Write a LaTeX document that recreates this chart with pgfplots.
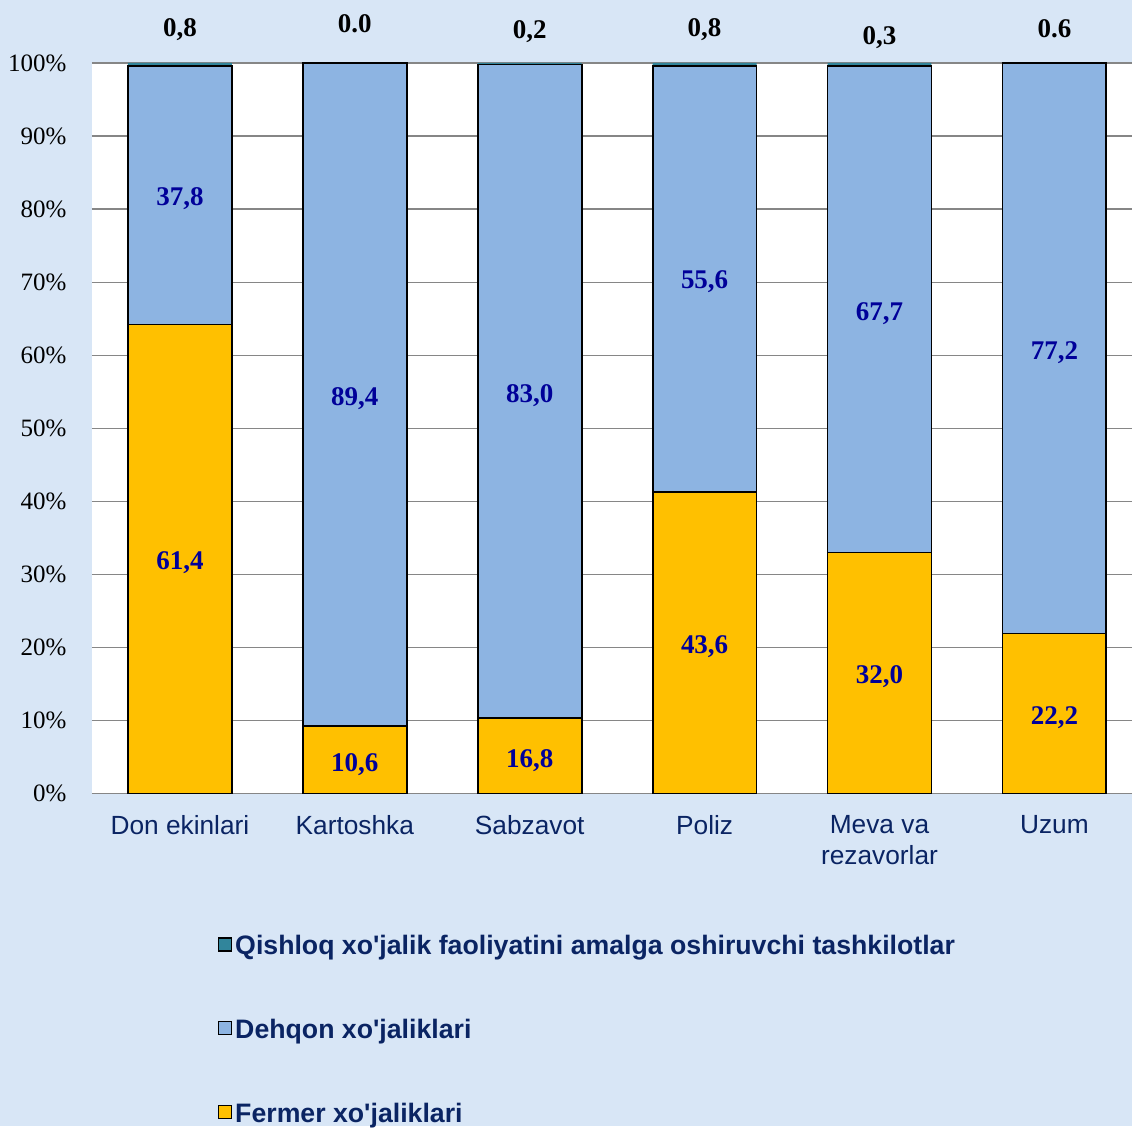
\documentclass[border=0pt]{standalone}
\usepackage{fontspec}
\setmainfont{Liberation Serif}
\newfontfamily\arial{Liberation Sans}
\usepackage{pgfplots}
\pgfplotsset{compat=1.18}
\definecolor{bg}{RGB}{216,230,246}
\definecolor{navy}{RGB}{10,36,99}
\definecolor{lblue}{RGB}{0,0,153}
\definecolor{fermer}{RGB}{255,192,0}
\definecolor{dehqon}{RGB}{141,180,226}
\definecolor{qish}{RGB}{49,133,155}
\definecolor{gridc}{RGB}{134,134,134}
\tikzset{lbl/.style={font=\bfseries\fontsize{27}{31}\selectfont, text=lblue},
         tlbl/.style={font=\bfseries\fontsize{27}{31}\selectfont, text=black}}
\pgfplotsset{sqlegend/.style={legend image code/.code={\draw[##1, line width=1.2pt] (0pt,-5pt) rectangle (13pt,8pt);}},
  common/.style={at={(92pt,333pt)}, anchor=south west,
  scale only axis, width=1041pt, height=731pt,
  xmin=-0.503, xmax=5.446, ymin=0, ymax=100, clip=false}}
\begin{document}
\begin{tikzpicture}
\fill[bg] (0pt,0pt) rectangle (1133pt,1127pt);
\begin{axis}[
  common,
  ybar stacked, bar width=104pt,
  axis background/.style={fill=white},
  axis line style={draw=none},
  major tick length=0pt,
  ymajorgrids, grid style={gridc, line width=1.2pt},
  ytick={0,10,...,100},
  yticklabels={0\%,10\%,20\%,30\%,40\%,50\%,60\%,70\%,80\%,90\%,100\%},
  yticklabel style={font=\fontsize{25}{29}\selectfont, xshift=-22pt},
  xtick={0,1,2,3,4,5},
  xticklabels={Don ekinlari,Kartoshka,Sabzavot,Poliz,{Meva va\\rezavorlar},Uzum},
  xticklabel style={font=\arial\fontsize{26.3}{31}\selectfont, text=navy, align=center, yshift=-18pt},
  reverse legend,
  sqlegend,
  legend cell align=left,
  legend style={at={(0.121,-0.19)}, anchor=north west, draw=none, fill=none,
    inner sep=0pt, row sep=57pt,
    nodes={inner sep=3pt},
    font=\arial\bfseries\fontsize{26.7}{31}\selectfont, text=navy},
]
\addplot[fill=fermer, draw=black, line width=1.8pt] coordinates {(0,64.2) (1,9.3) (2,10.3) (3,41.3) (4,33.0) (5,21.9)};
\addlegendentry{Fermer xo'jaliklari}
\addplot[fill=dehqon, draw=black, line width=1.8pt] coordinates {(0,35.4) (1,90.7) (2,89.5) (3,58.3) (4,66.6) (5,78.1)};
\addlegendentry{Dehqon xo'jaliklari}
\addplot[fill=qish, draw=none] coordinates {(0,0.4) (1,0) (2,0.2) (3,0.4) (4,0.4) (5,0)};
\addlegendentry{Qishloq xo'jalik faoliyatini amalga oshiruvchi tashkilotlar}
\end{axis}
\begin{axis}[common, hide axis]
\addplot[draw=none, mark=none, nodes near coords, point meta=explicit symbolic,
  every node near coord/.style={anchor=center, lbl, yshift=-3pt}] coordinates {
  (0,81.8) [37,8] (0,32.0) [61,4]
  (1,54.4) [89,4] (1,4.4) [10,6]
  (2,54.9) [83,0] (2,4.9) [16,8]
  (3,70.5) [55,6] (3,20.5) [43,6]
  (4,66.1) [67,7] (4,16.4) [32,0]
  (5,60.7) [77,2] (5,10.8) [22,2]
};
\addplot[draw=none, mark=none, nodes near coords, point meta=explicit symbolic,
  every node near coord/.style={anchor=center, tlbl, yshift=-2pt}] coordinates {
  (0,104.9) [0,8] (1,105.6) [0.0] (2,104.5) [0,2]
  (3,104.9) [0,8] (4,103.8) [0,3] (5,104.9) [0.6]
};
\end{axis}
\end{tikzpicture}
\end{document}
